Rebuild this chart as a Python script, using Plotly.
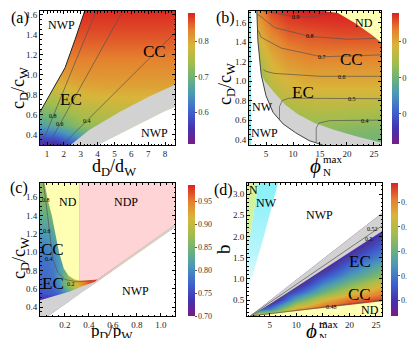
import plotly.graph_objects as go

FONT = "Liberation Serif"
W, H = 415, 338

# Mathematica-like "Rainbow" gradient
RAINBOW = [[0.0, '#781c86'], [0.12, '#4433b0'], [0.25, '#3f63cf'], [0.38, '#4a98b8'],
           [0.5, '#6cb27a'], [0.62, '#a3bd4d'], [0.75, '#d8b53a'], [0.87, '#e5822f'],
           [1.0, '#da2222']]
GREY = '#d2d2d2'
PALE_YELLOW = '#ffffb4'
PINK = '#ffd4d6'
CYAN = '#86f0f8'
LIME = '#d2f39c'

# ---------------- panel (a): c_D/c_W vs d_D/d_W
a_x = [0.585, 1.5, 3.0, 4.5, 6.0, 7.5, 8.59]
a_y = [0.30, 0.40, 0.50, 0.60, 0.70, 0.80, 0.90, 1.00, 1.20, 1.40, 1.64]
a_z = [
    [0.53, 0.53, 0.60, 0.65, 0.68, 0.70, 0.72],
    [0.60, 0.61, 0.67, 0.705, 0.72, 0.73, 0.74],
    [0.66, 0.68, 0.725, 0.735, 0.74, 0.745, 0.75],
    [0.695, 0.71, 0.745, 0.755, 0.76, 0.76, 0.765],
    [0.725, 0.735, 0.765, 0.77, 0.775, 0.775, 0.775],
    [0.755, 0.76, 0.785, 0.79, 0.79, 0.79, 0.79],
    [0.78, 0.785, 0.80, 0.805, 0.805, 0.805, 0.805],
    [0.80, 0.805, 0.815, 0.815, 0.815, 0.815, 0.815],
    [0.83, 0.835, 0.835, 0.835, 0.835, 0.835, 0.835],
    [0.855, 0.855, 0.855, 0.855, 0.855, 0.855, 0.855],
    [0.875, 0.875, 0.875, 0.875, 0.875, 0.875, 0.875],
]
a_nwp_top_x = [0.585, 1.0, 1.5, 2.07, 2.66, 3.24, 0.585]
a_nwp_top_y = [0.63, 0.75, 0.90, 1.07, 1.35, 1.64, 1.64]
a_grey_x = [2.4, 3.5, 5.3, 7.0, 8.59, 8.59, 8.0, 6.6, 5.2, 4.0]
a_grey_y = [0.30, 0.45, 0.63, 0.78, 0.90, 0.68, 0.64, 0.52, 0.40, 0.30]
a_nwp_bot_x = [4.0, 5.2, 6.6, 8.0, 8.59, 8.59]
a_nwp_bot_y = [0.30, 0.40, 0.52, 0.64, 0.68, 0.30]
a_contours = {'0.8': ([0.67, 3.92], [0.30, 1.64], 1.37, 0.59),
              '0.6': ([1.08, 5.5], [0.30, 1.64], 1.77, 0.51),
              '0.4': ([1.92, 8.59], [0.30, 1.42], 3.35, 0.54)}

# ---------------- panel (b): c_D/c_W vs phi_N^max
b_x = [1.85, 4.0, 6.0, 9.0, 13.0, 18.0, 26.3]
b_y = [0.345, 0.5, 0.7, 0.9, 1.1, 1.3, 1.5, 1.72]
b_z = [
    [0.66, 0.66, 0.68, 0.69, 0.70, 0.70, 0.70],
    [0.66, 0.67, 0.69, 0.71, 0.72, 0.72, 0.71],
    [0.68, 0.70, 0.72, 0.745, 0.755, 0.755, 0.75],
    [0.70, 0.72, 0.755, 0.775, 0.785, 0.785, 0.785],
    [0.72, 0.745, 0.78, 0.80, 0.81, 0.81, 0.81],
    [0.74, 0.77, 0.80, 0.825, 0.835, 0.835, 0.835],
    [0.76, 0.80, 0.83, 0.85, 0.855, 0.86, 0.86],
    [0.78, 0.83, 0.86, 0.875, 0.88, 0.88, 0.88],
]
b_outer_x = [3.3, 3.5, 4.1, 5.0, 6.3, 8.2, 10.5, 13.0, 15.5]
b_outer_y = [1.72, 1.41, 1.07, 0.85, 0.68, 0.56, 0.47, 0.39, 0.345]
b_color_x = [4.1, 4.8, 6.3, 8.5, 10.9, 14.0, 17.7, 22.0, 26.3]
b_color_y = [1.07, 1.00, 0.90, 0.76, 0.66, 0.57, 0.50, 0.43, 0.37]
b_nd_x = [15.6, 18.3, 21.4, 24.5, 26.3, 26.3]
b_nd_y = [1.72, 1.70, 1.60, 1.48, 1.40, 1.72]
b_contours = {
    '0.4': ([14.3, 14.3, 14.8, 16.8, 26.3], [0.37, 0.52, 0.57, 0.595, 0.60], 23.4, 0.59),
    '0.5': ([7.5, 7.5, 8.0, 9.2, 26.3], [0.60, 0.74, 0.80, 0.825, 0.82], 20.9, 0.82),
    '0.6': ([4.5, 5.0, 6.5, 15.0, 26.3], [1.12, 1.10, 1.08, 1.05, 1.05], 19.0, 1.045),
    '0.7': ([3.6, 4.1, 7.8, 15.3, 26.3], [1.52, 1.45, 1.34, 1.25, 1.27], 15.3, 1.25),
    '0.8': ([3.4, 6.6, 13.1, 20.2, 25.3], [1.69, 1.55, 1.46, 1.43, 1.44], 13.1, 1.46),
    '0.9': ([4.5, 7.8, 10.6, 14.0, 16.5], [1.72, 1.69, 1.66, 1.66, 1.70], 10.6, 1.66),
}

# ---------------- panel (c): c_D/c_W vs p_D/p_W
c_x = [-0.008, 0.05, 0.1, 0.15, 0.2, 0.25, 0.3, 0.35, 0.4, 0.47, 1.117]
c_y = [0.30, 0.45, 0.55, 0.65, 0.75, 0.90, 1.10, 1.30, 1.50, 1.753]
c_z = [
    [0.70, 0.705, 0.715, 0.725, 0.735, 0.75, 0.77, 0.79, 0.81, 0.83, 0.83],
    [0.715, 0.72, 0.73, 0.74, 0.75, 0.765, 0.78, 0.80, 0.82, 0.84, 0.84],
    [0.76, 0.762, 0.766, 0.775, 0.80, 0.83, 0.86, 0.90, 0.93, 0.96, 0.96],
    [0.772, 0.774, 0.778, 0.80, 0.85, 0.89, 0.92, 0.945, 0.965, 0.98, 0.98],
    [0.776, 0.778, 0.785, 0.81, 0.845, 0.88, 0.91, 0.94, 0.97, 0.98, 0.98],
    [0.78, 0.782, 0.79, 0.81, 0.83, 0.86, 0.88, 0.90, 0.92, 0.94, 0.94],
    [0.795, 0.80, 0.81, 0.825, 0.84, 0.86, 0.88, 0.90, 0.92, 0.94, 0.94],
    [0.82, 0.825, 0.835, 0.845, 0.855, 0.865, 0.88, 0.90, 0.92, 0.94, 0.94],
    [0.845, 0.85, 0.86, 0.865, 0.87, 0.88, 0.89, 0.90, 0.92, 0.94, 0.94],
    [0.865, 0.87, 0.88, 0.88, 0.88, 0.89, 0.90, 0.91, 0.92, 0.94, 0.94],
]
c_nd_x = [0.03, 0.06, 0.09, 0.12, 0.15, 0.19, 0.23, 0.28, 0.32, 0.32]
c_nd_y = [1.753, 1.55, 1.40, 1.20, 1.00, 0.82, 0.74, 0.70, 0.688, 1.753]
c_ndp_x = [0.32, 1.117, 1.117, 0.47, 0.40, 0.32]
c_ndp_y = [1.753, 1.753, 1.30, 0.70, 0.692, 0.688]
c_grey_x = [-0.008, 0.1, 0.24, 0.35, 0.45, 0.47, 1.117, 1.117, 0.06, -0.008]
c_grey_y = [0.475, 0.52, 0.57, 0.63, 0.675, 0.70, 1.30, 1.27, 0.302, 0.302]
c_nwp_x = [0.06, 1.117, 1.117]
c_nwp_y = [0.302, 1.27, 0.302]
c_cont_x = [0.02, 0.04, 0.06, 0.08, 0.10, 0.14, 0.20, 0.30, 0.42]
c_cont_y = [1.75, 1.57, 1.35, 1.12, 0.92, 0.78, 0.70, 0.675, 0.685]
c_cont_labels = [('0.8', 0.04, 1.57), ('0.6', 0.05, 1.23), ('0.4', 0.07, 0.92), ('0.2', 0.25, 0.655)]

# ---------------- panel (d): b vs phi_N^max
d_x = [0.73, 5.0, 10.0, 15.0, 20.0, 26.13]
d_y = [0.123, 0.3, 0.5, 0.7, 0.9, 1.1, 1.3, 1.5, 1.7, 1.9, 2.1, 2.3, 3.26]
d_z = [
    [0.79, 0.805, 0.815, 0.815, 0.815, 0.815],
    [0.72, 0.742, 0.794, 0.812, 0.815, 0.815],
    [0.705, 0.705, 0.756, 0.788, 0.805, 0.812],
    [0.705, 0.705, 0.73, 0.761, 0.783, 0.80],
    [0.705, 0.705, 0.708, 0.742, 0.763, 0.784],
    [0.705, 0.705, 0.705, 0.727, 0.748, 0.768],
    [0.705, 0.705, 0.705, 0.711, 0.736, 0.757],
    [0.705, 0.705, 0.705, 0.705, 0.725, 0.745],
    [0.705, 0.705, 0.705, 0.705, 0.713, 0.736],
    [0.705, 0.705, 0.705, 0.705, 0.705, 0.728],
    [0.705, 0.705, 0.705, 0.705, 0.705, 0.72],
    [0.705, 0.705, 0.705, 0.705, 0.705, 0.71],
    [0.705, 0.705, 0.705, 0.705, 0.705, 0.705],
]
d_white_x = [0.73, 1.3, 26.13, 26.13, 0.73]
d_white_y = [0.123, 0.123, 2.55, 3.26, 3.26]
d_grey_x = [1.3, 26.13, 26.13, 1.6]
d_grey_y = [0.123, 2.55, 2.12, 0.123]
d_nd_x = [1.86, 26.13, 26.13]
d_nd_y = [0.123, 0.47, 0.123]
d_n_x = [0.73, 2.9, 0.73]
d_n_y = [3.26, 3.26, 1.6]
d_nw_x = [2.9, 6.56, 3.74, 1.86, 1.0, 0.73, 0.73]
d_nw_y = [3.26, 3.26, 1.92, 1.14, 0.75, 0.70, 1.6]
d_contours = {'0.52': ([1.3, 26.13], [0.123, 2.25], 24.4, 2.17),
              '0.5': ([1.45, 26.13], [0.123, 1.98], 23.7, 1.95),
              '0.48': ([1.9, 26.13], [0.13, 0.50], 16.6, 0.33)}


def px(x):
    return x / W


def py(y):
    return 1 - y / H


fig = go.Figure()


def heat(xs, ys, zs, zmin, zmax, cb, ax):
    fig.add_trace(go.Heatmap(x=xs, y=ys, z=zs, zmin=zmin, zmax=zmax, zsmooth='best',
                             colorscale=RAINBOW, colorbar=cb, hoverinfo='skip',
                             xaxis='x' + ax, yaxis='y' + ax))


def poly(xs, ys, color, ax, grad=None):
    kw = dict(fillgradient=grad) if grad else dict(fillcolor=color)
    fig.add_trace(go.Scatter(x=xs, y=ys, fill='toself', mode='lines', line=dict(width=0),
                             hoverinfo='skip', showlegend=False,
                             xaxis='x' + ax, yaxis='y' + ax, **kw))


def line(xs, ys, ax, color='#555555', width=0.7):
    fig.add_trace(go.Scatter(x=xs, y=ys, mode='lines', line=dict(color=color, width=width),
                             hoverinfo='skip', showlegend=False,
                             xaxis='x' + ax, yaxis='y' + ax))


def cbar(x0, y0, y1, vals, fmt, size=8.5):
    return dict(x=px(x0), xanchor='left', y=py((y0 + y1) / 2), yanchor='middle',
                len=(y1 - y0) / H, lenmode='fraction', thickness=7, thicknessmode='pixels',
                outlinewidth=0, xpad=0, ypad=0, ticks='outside', ticklen=2,
                tickcolor='#555', tickvals=vals, ticktext=[fmt.format(v) for v in vals],
                tickfont=dict(family=FONT, size=size, color='#333'))


# (a)
heat(a_x, a_y, a_z, 0.51, 0.879, cbar(180, 5, 136, [0.6, 0.7, 0.8], '{:.1f}'), '')
poly(a_nwp_top_x, a_nwp_top_y, 'white', '')
line(a_nwp_top_x[:-1], a_nwp_top_y[:-1], '', color='#222', width=1)
poly(a_grey_x, a_grey_y, GREY, '')
poly(a_nwp_bot_x, a_nwp_bot_y, 'white', '')
for k, (xs, ys, lx, ly) in a_contours.items():
    line(xs, ys, '')

# (b)
heat(b_x, b_y, b_z, 0.517, 0.878, cbar(384, 5, 136, [0.6, 0.7, 0.8], '{:.1f}'), '2')
poly([2.2] + b_outer_x + [2.2], [1.72] + b_outer_y + [0.345], 'white', '2')
poly(b_outer_x[2:] + [26.3] + b_color_x[::-1], b_outer_y[2:] + [0.345] + b_color_y[::-1], GREY, '2')
poly([1.85, 2.2, 2.2, 1.85], [0.345, 0.345, 1.72, 1.72], CYAN, '2')
poly(b_nd_x, b_nd_y, PALE_YELLOW, '2')
line(b_outer_x, b_outer_y, '2', color='#444', width=1)
for k, (xs, ys, lx, ly) in b_contours.items():
    line(xs, ys, '2')

# (c)
heat(c_x, c_y, c_z, 0.70, 0.985,
     cbar(180, 177, 308, [0.70, 0.75, 0.80, 0.85, 0.90, 0.95], '{:.2f}', 8), '3')
poly(c_nd_x, c_nd_y, PALE_YELLOW, '3')
poly(c_ndp_x, c_ndp_y, PINK, '3')
poly(c_grey_x, c_grey_y, GREY, '3')
poly(c_nwp_x, c_nwp_y, 'white', '3')
line(c_cont_x, c_cont_y, '3')

# (d)
heat(d_x, d_y, d_z, 0.707, 0.816,
     cbar(383, 175, 308, [0.72, 0.74, 0.76, 0.78, 0.80], '{:.2f}', 8), '4')
poly(d_white_x, d_white_y, 'white', '4')
poly(d_grey_x, d_grey_y, GREY, '4')
poly(d_nd_x, d_nd_y, PALE_YELLOW, '4')
poly(d_nw_x, d_nw_y, CYAN, '4',
     grad=dict(type='vertical', start=0.7, stop=3.26,
               colorscale=[[0, '#f4feff'], [0.35, '#b8f5fb'], [1, CYAN]]))
poly(d_n_x, d_n_y, LIME, '4')
for k, (xs, ys, lx, ly) in d_contours.items():
    line(xs, ys, '4')


def axis(dom, rng, vals, fmt, minor, anchor):
    return dict(domain=dom, range=rng, anchor=anchor, showline=True, linecolor='black',
                linewidth=1, mirror='ticks', ticks='inside', ticklen=3, tickwidth=0.8,
                tickcolor='black', tickvals=vals, ticktext=[fmt.format(v) for v in vals],
                tickfont=dict(family=FONT, size=9, color='#222'), showgrid=False,
                zeroline=False, minor=dict(ticks='inside', ticklen=1.5, tickcolor='black',
                                           dtick=minor, showgrid=False))


ya_dom = [py(137), py(3)]
yc_dom = [py(308), py(175)]
cvals = [0.4, 0.6, 0.8, 1.0, 1.2, 1.4, 1.6]
fig.update_layout(
    xaxis=axis([px(32), px(167)], [0.585, 8.59], [1, 2, 3, 4, 5, 6, 7, 8], '{:d}', 0.2, 'y'),
    yaxis=axis(ya_dom, [0.30, 1.637], cvals, '{:.1f}', 0.05, 'x'),
    xaxis2=axis([px(241), px(373)], [1.85, 26.3], [5, 10, 15, 20, 25], '{:d}', 1, 'y2'),
    yaxis2=axis(ya_dom, [0.345, 1.72], cvals, '{:.1f}', 0.05, 'x2'),
    xaxis3=axis([px(32), px(167)], [-0.008, 1.117], [0.2, 0.4, 0.6, 0.8, 1.0], '{:.1f}', 0.05, 'y3'),
    yaxis3=axis(yc_dom, [0.302, 1.753], cvals, '{:.1f}', 0.05, 'x3'),
    xaxis4=axis([px(239), px(374)], [0.73, 26.13], [5, 10, 15, 20, 25], '{:d}', 1, 'y4'),
    yaxis4=axis(yc_dom, [0.123, 3.26], [0.5, 1.0, 1.5, 2.0, 2.5, 3.0], '{:.1f}', 0.1, 'x4'),
    width=W, height=H, margin=dict(l=0, r=0, t=0, b=0),
    paper_bgcolor='white', plot_bgcolor='white', showlegend=False,
    font=dict(family=FONT, color='black'),
)

ann = []


def txt(t, x, y, ax, size, **kw):
    kw.setdefault('xanchor', 'center')
    ann.append(dict(text=t, x=x, y=y, xref='x' + ax, yref='y' + ax, showarrow=False,
                    yanchor='middle', font=dict(family=FONT, size=size, color='black'), **kw))


def ptxt(t, x, y, size, **kw):
    ann.append(dict(text=t, x=px(x), y=py(y), xref='paper', yref='paper', showarrow=False,
                    xanchor='center', yanchor='middle',
                    font=dict(family=FONT, size=size, color='black'), **kw))


# region labels
txt('NWP', 1.83, 1.495, '', 12)
txt('CC', 7.4, 1.236, '', 17)
txt('EC', 2.42, 0.75, '', 17)
txt('NWP', 7.4, 0.42, '', 12)
txt('CC', 20.9, 1.22, '2', 17)
txt('EC', 11.9, 0.88, '2', 17)
txt('ND', 23.1, 1.60, '2', 12)
txt('NW', 1.95, 0.73, '2', 12, xanchor='left')
txt('NWP', 4.7, 0.47, '2', 12)
txt('ND', 0.225, 1.55, '3', 12)
txt('NDP', 0.71, 1.55, '3', 12)
txt('CC', 0.1, 1.025, '3', 17)
txt('EC', 0.1, 0.66, '3', 17)
txt('NWP', 0.79, 0.57, '3', 12)
txt('N', 1.86, 3.1, '4', 12)
txt('NW', 4.36, 2.79, '4', 12)
txt('NWP', 14.4, 2.51, '4', 12)
txt('EC', 21.9, 1.41, '4', 17)
txt('CC', 21.9, 0.62, '4', 17)
txt('ND', 23.8, 0.27, '4', 12)

# contour labels
for k, (xs, ys, lx, ly) in a_contours.items():
    txt(k, lx, ly, '', 6)
for k, (xs, ys, lx, ly) in b_contours.items():
    txt(k, lx, ly, '2', 6)
for k, lx, ly in c_cont_labels:
    txt(k, lx, ly, '3', 6)
for k, (xs, ys, lx, ly) in d_contours.items():
    txt(k, lx, ly, '4', 6)

# panel letters
ptxt('(a)', 12, 10, 16)
ptxt('(b)', 217, 10, 16)
ptxt('(c)', 11, 180, 16)
ptxt('(d)', 215, 182, 16)

# axis titles
ptxt('c<sub>D</sub>/c<sub>W</sub>', 11, 80, 18, textangle=-90)
ptxt('c<sub>D</sub>/c<sub>W</sub>', 218, 76, 18, textangle=-90)
ptxt('c<sub>D</sub>/c<sub>W</sub>', 12, 250, 18, textangle=-90)
ptxt('b', 215, 241, 19, textangle=-90)
ptxt('d<sub>D</sub>/d<sub>W</sub>', 106, 159, 18)
ptxt('p<sub>D</sub>/p<sub>W</sub>', 104, 324, 17)
for x0, y0 in [(307, 158), (303, 323)]:
    ptxt('<i>ϕ</i>', x0, y0, 21)
    ptxt('max', x0 + 17, y0 - 7, 11)
    ptxt('N', x0 + 12, y0 + 6, 11)

fig.update_layout(annotations=ann)
fig.write_html("out.html")
